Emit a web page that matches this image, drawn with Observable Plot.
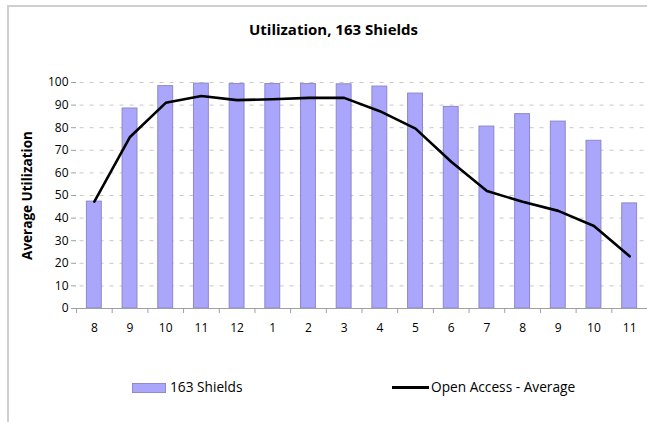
<!DOCTYPE html>
<html>
<head>
<meta charset="utf-8">
<script src="https://cdn.jsdelivr.net/npm/d3@7"></script>
<script src="https://cdn.jsdelivr.net/npm/@observablehq/plot@0.6"></script>
<style>
  html, body { margin: 0; padding: 0; background: #fff; }
  body { width: 647px; height: 422px; overflow: hidden; position: relative; font-family: "Open Sans", sans-serif; }
  #frame { position: absolute; left: 7px; top: 5px; width: 660px; height: 430px; border-left: 2px solid #cfcfcf; border-top: 2px solid #cfcfcf; }
  #title { position: absolute; top: 19px; left: 0; width: 667px; text-align: center; font-weight: bold; font-size: 15px; color: #000; }
  #chart { position: absolute; left: 0; top: 0; }
  #legend { position: absolute; top: 378px; left: 0; width: 647px; height: 20px; font-size: 13.7px; color: #000; }
  .sw { position: absolute; }
  .lt { position: absolute; top: 0; line-height: 18px; }
</style>
</head>
<body>
<div id="frame"></div>
<div id="chart"></div>
<div id="title">Utilization, 163 Shields</div>
<div id="legend">
  <div class="sw" style="left:132px; top:5px; width:32px; height:8px; background:#aaa6fb; border:1px solid #8e8ad0;"></div>
  <div class="lt" style="left:170px;">163 Shields</div>
  <div class="sw" style="left:392px; top:8px; width:37px; height:3px; background:#000;"></div>
  <div class="lt" style="left:431px;">Open Access - Average</div>
</div>
<script>
const months = ["8","9","10","11","12","1","2","3","4","5","6","7","8","9","10","11"];
const shields = [47.3, 88.5, 98.4, 99.5, 99.3, 99.3, 99.3, 99.2, 98.2, 95.1, 89.2, 80.5, 86.0, 82.7, 74.2, 46.5];
const openAccess = [47.3, 75.9, 91.0, 94.0, 92.2, 92.6, 93.2, 93.2, 87.3, 79.6, 64.9, 52.0, 47.2, 43.2, 36.5, 23.1];
const yTicks = [0,10,20,30,40,50,60,70,80,90,100];

const rows = months.map((m, i) => ({i, m, shields: shields[i], open: openAccess[i]}));
const n = months.length;

const chart = Plot.plot({
  width: 647,
  height: 360,
  marginTop: 82,
  marginBottom: 52,
  marginLeft: 76,
  marginRight: 0,
  style: {fontFamily: "'Open Sans', sans-serif", fontSize: "11px", color: "#000", background: "transparent", overflow: "visible"},
  x: {domain: [0, n], axis: null},
  y: {domain: [0, 100], axis: null},
  marks: [
    Plot.gridY(yTicks.filter(d => d > 0), {stroke: "#c8c8c8", strokeOpacity: 1, strokeDasharray: "4,6", x1: 0.1, x2: n}),
    Plot.rectY(rows, {x1: "i", x2: d => d.i + 1, y: "shields", insetLeft: 10.4, insetRight: 10.4, fill: "#aaa6fb", stroke: "#8c88cc", strokeWidth: 1}),
    Plot.ruleY([0], {stroke: "#a0a0a0", strokeWidth: 1.2}),
    Plot.axisX(d3.range(n + 1), {tickSize: 5, tickFormat: () => "", stroke: "#a0a0a0", label: null}),
    Plot.axisX(rows.map(d => d.i + 0.5), {tickSize: 0, tickPadding: 15, tickFormat: (d) => months[Math.floor(d)], fontSize: 12, label: null}),
    Plot.axisY(yTicks, {tickSize: 5, tickPadding: 3, stroke: "#a0a0a0", fontSize: 12, label: null}),
    Plot.line(rows, {x: d => d.i + 0.5, y: "open", stroke: "#000", strokeWidth: 2.6, strokeLinejoin: "round"}),
    Plot.text(["Average Utilization"], {frameAnchor: "left", textAnchor: "middle", dx: -49, rotate: -90, fontWeight: "bold", fontSize: 13.5})
  ]
});
document.getElementById("chart").appendChild(chart);
</script>
</body>
</html>
